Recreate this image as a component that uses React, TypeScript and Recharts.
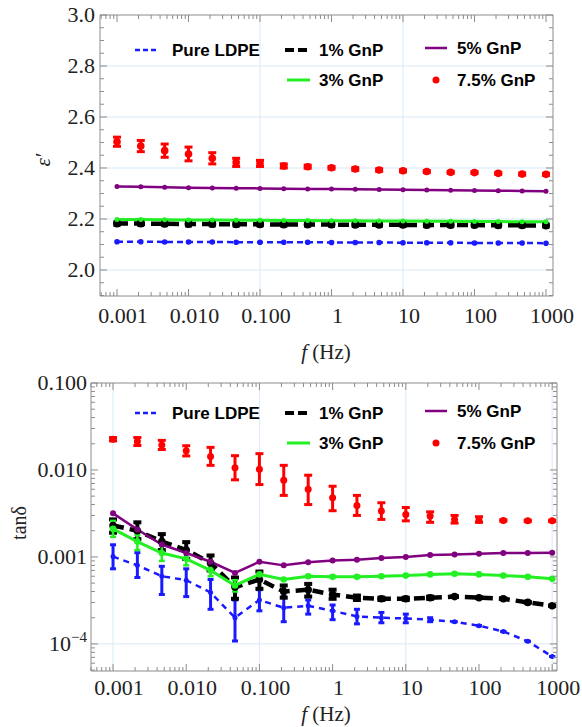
import React from 'react';
import { ComposedChart, Line, XAxis, YAxis, ErrorBar, ReferenceLine } from 'recharts';

// ---------- shared ----------
const freqs = [0.001, 0.00215, 0.00464, 0.01, 0.0215, 0.0464, 0.1, 0.215, 0.464, 1, 2.15, 4.64, 10, 21.5, 46.4, 100, 215, 464, 1000];
const seriesNames = ['Pure LDPE', '1% GnP', '3% GnP', '5% GnP', '7.5% GnP'];

const xTickValues = [0.001, 0.01, 0.1, 1, 10, 100, 1000];
const xTickLabels = ['0.001', '0.010', '0.100', '1', '10', '100', '1000'];

// ---------- top panel: eps' ----------
const epsPure = [2.111, 2.111, 2.110, 2.110, 2.110, 2.109, 2.109, 2.109, 2.109, 2.108, 2.108, 2.108, 2.107, 2.107, 2.107, 2.106, 2.106, 2.106, 2.105];
const epsPureErr = [0.003, 0.003, 0.003, 0.003, 0.003, 0.003, 0.003, 0.003, 0.003, 0.003, 0.003, 0.003, 0.003, 0.003, 0.003, 0.003, 0.003, 0.003, 0.003];
const eps1 = [2.182, 2.182, 2.181, 2.180, 2.180, 2.179, 2.179, 2.178, 2.178, 2.178, 2.177, 2.177, 2.177, 2.176, 2.176, 2.176, 2.175, 2.175, 2.174];
const eps1Err = [0.007, 0.007, 0.007, 0.007, 0.007, 0.007, 0.006, 0.006, 0.006, 0.006, 0.006, 0.006, 0.006, 0.006, 0.006, 0.006, 0.006, 0.006, 0.006];
const eps3 = [2.198, 2.198, 2.197, 2.196, 2.196, 2.195, 2.195, 2.194, 2.194, 2.193, 2.193, 2.192, 2.192, 2.191, 2.191, 2.190, 2.190, 2.189, 2.189];
const eps5 = [2.327, 2.326, 2.324, 2.323, 2.322, 2.321, 2.320, 2.319, 2.318, 2.318, 2.317, 2.316, 2.315, 2.314, 2.313, 2.312, 2.311, 2.310, 2.309];
const eps75 = [2.503, 2.486, 2.468, 2.455, 2.438, 2.422, 2.418, 2.408, 2.405, 2.401, 2.396, 2.392, 2.389, 2.386, 2.383, 2.382, 2.379, 2.376, 2.375];
const eps75Err = [0.018, 0.022, 0.026, 0.027, 0.022, 0.016, 0.012, 0.008, 0.006, 0.005, 0.005, 0.005, 0.004, 0.004, 0.004, 0.004, 0.004, 0.004, 0.004];

const epsTickValues = [2.0, 2.2, 2.4, 2.6, 2.8, 3.0];
const epsTickLabels = ['2.0', '2.2', '2.4', '2.6', '2.8', '3.0'];

// ---------- bottom panel: tan delta ----------
const tanPure = [0.00101, 0.0008, 0.0006, 0.00054, 0.00039, 0.0002, 0.00032, 0.00026, 0.000275, 0.00024, 0.000207, 0.0002, 0.000196, 0.00019, 0.00018, 0.000162, 0.000139, 0.000107, 0.0000716];
const tanPureHi = [0.00138, 0.00112, 0.00078, 0.00073, 0.00055, 0.00032, 0.00042, 0.00035, 0.00032, 0.00028, 0.00025, 0.00023, 0.00022, 0.0002, 0.00018, 0.000162, 0.000139, 0.000107, 0.0000716];
const tanPureLo = [0.00073, 0.00058, 0.00037, 0.00035, 0.00025, 0.000108, 0.00024, 0.00018, 0.00022, 0.00019, 0.00017, 0.000175, 0.000175, 0.00018, 0.00018, 0.000162, 0.000139, 0.000107, 0.0000716];

const tan1 = [0.0023, 0.002, 0.0015, 0.0012, 0.00085, 0.00045, 0.00055, 0.0004, 0.00042, 0.00037, 0.00034, 0.00033, 0.00033, 0.00034, 0.00035, 0.00034, 0.00033, 0.0003, 0.000275];
const tan1Hi = [0.0027, 0.0025, 0.00183, 0.00148, 0.00104, 0.00058, 0.00068, 0.00047, 0.00049, 0.00042, 0.00036, 0.00034, 0.00034, 0.00035, 0.00035, 0.00034, 0.00033, 0.0003, 0.000275];
const tan1Lo = [0.0019, 0.0016, 0.0012, 0.00095, 0.0007, 0.00033, 0.00043, 0.00034, 0.00035, 0.00033, 0.00032, 0.00032, 0.00032, 0.00033, 0.00035, 0.00034, 0.00033, 0.0003, 0.000275];

const tan3 = [0.0021, 0.0015, 0.00111, 0.00095, 0.0007, 0.00047, 0.00063, 0.00055, 0.0006, 0.00059, 0.00059, 0.0006, 0.00061, 0.00063, 0.00064, 0.00063, 0.00061, 0.00059, 0.00056];
const tan3Hi = [0.0026, 0.0018, 0.0014, 0.00115, 0.00082, 0.00054, 0.00063, 0.00055, 0.0006, 0.00059, 0.00059, 0.0006, 0.00061, 0.00063, 0.00064, 0.00063, 0.00061, 0.00059, 0.00056];
const tan3Lo = [0.0017, 0.0012, 0.0009, 0.0008, 0.0006, 0.0004, 0.00063, 0.00055, 0.0006, 0.00059, 0.00059, 0.0006, 0.00061, 0.00063, 0.00064, 0.00063, 0.00061, 0.00059, 0.00056];

const tan5 = [0.00317, 0.00207, 0.00139, 0.00111, 0.00088, 0.000655, 0.00088, 0.0008, 0.00087, 0.00091, 0.00093, 0.00097, 0.00100, 0.00105, 0.00107, 0.00109, 0.00111, 0.00111, 0.00112];

const tan75 = [0.0226, 0.0212, 0.0194, 0.0166, 0.0143, 0.0106, 0.0102, 0.0076, 0.006, 0.0048, 0.0039, 0.00337, 0.00308, 0.00295, 0.0027, 0.00265, 0.00263, 0.0026, 0.0026];
const tan75Hi = [0.0236, 0.0236, 0.0219, 0.019, 0.0182, 0.0146, 0.0154, 0.0113, 0.0087, 0.0065, 0.0051, 0.0042, 0.0037, 0.0033, 0.003, 0.0029, 0.00268, 0.00265, 0.00265];
const tan75Lo = [0.0216, 0.0191, 0.0172, 0.0145, 0.0113, 0.0077, 0.0068, 0.0051, 0.0040, 0.0034, 0.003, 0.0027, 0.0026, 0.0025, 0.00245, 0.0025, 0.00258, 0.00255, 0.00255];

const tanTickValues = [0.0001, 0.001, 0.01, 0.1];
const tanTickLabels = ['10^-4', '0.001', '0.010', '0.100'];

// ---------- tables ----------
const topData = freqs.map((f, i) => ({
  f,
  pure: epsPure[i], pureErr: epsPureErr[i],
  g1: eps1[i], g1Err: eps1Err[i],
  g3: eps3[i],
  g5: eps5[i],
  g75: eps75[i], g75Err: eps75Err[i],
}));

const asym = (v: number, lo: number, hi: number) => [Math.max(0, v - lo), Math.max(0, hi - v)];

const bottomData = freqs.map((f, i) => ({
  f,
  pure: tanPure[i], pureErr: asym(tanPure[i], tanPureLo[i], tanPureHi[i]),
  g1: tan1[i], g1Err: asym(tan1[i], tan1Lo[i], tan1Hi[i]),
  g3: tan3[i], g3Err: asym(tan3[i], tan3Lo[i], tan3Hi[i]),
  g5: tan5[i],
  g75: tan75[i], g75Err: asym(tan75[i], tan75Lo[i], tan75Hi[i]),
}));

// ---------- axis helpers ----------
const logTicks = (lo: number, hi: number) => {
  const out: number[] = [];
  for (let d = -6; d <= 4; d++) {
    for (let m = 1; m <= 9; m++) {
      const v = parseFloat((m * Math.pow(10, d)).toPrecision(6));
      if (v >= lo && v <= hi) out.push(v);
    }
  }
  return out;
};
const linTicks = (lo: number, hi: number, step: number) => {
  const out: number[] = [];
  for (let v = Math.ceil(lo / step) * step; v <= hi + 1e-9; v += step) out.push(parseFloat(v.toFixed(4)));
  return out;
};

const FRAME = '#8c8c8c';
const GRID = '#d9e9f7';
const SERIF = '"Liberation Serif", "Times New Roman", serif';
const SANS = '"Liberation Sans", Arial, sans-serif';

const isIn = (arr: number[], v: number) => arr.findIndex((m) => Math.abs(m - v) <= Math.abs(m) * 1e-6 + 1e-12);

const renderLabel = (s: string) => {
  if (s.startsWith('10^')) {
    return (
      <>
        <tspan>10</tspan>
        <tspan dy={-9} fontSize={15}>{'\u2212' + s.slice(4)}</tspan>
      </>
    );
  }
  return s;
};

function makeTick(side: string, majors: number[], labels: string[] | null, gap: number, dx = 0) {
  return (props: any) => {
    const { x, y, payload } = props;
    const v = payload.value;
    const idx = isIn(majors, v);
    const major = idx >= 0;
    const len = major ? 7 : 4;
    let line = null;
    let label = null;
    if (side === 'bottom') {
      line = <line x1={x} x2={x} y1={y} y2={y - len} stroke={FRAME} strokeWidth={1} />;
      if (major && labels) label = <text x={x + dx} y={y + gap} textAnchor="middle" fontFamily={SERIF} fontSize={22} fill="#222">{renderLabel(labels[idx])}</text>;
    } else if (side === 'top') {
      line = <line x1={x} x2={x} y1={y} y2={y + len} stroke={FRAME} strokeWidth={1} />;
    } else if (side === 'left') {
      line = <line x1={x} x2={x + len} y1={y} y2={y} stroke={FRAME} strokeWidth={1} />;
      if (major && labels) label = <text x={x - gap} y={y + 7} textAnchor="end" fontFamily={SERIF} fontSize={22} fill="#222">{renderLabel(labels[idx])}</text>;
    } else {
      line = <line x1={x} x2={x - len} y1={y} y2={y} stroke={FRAME} strokeWidth={1} />;
    }
    return <g>{line}{label}</g>;
  };
}

// ---------- charts ----------
const topXDomain = [0.000578, 1253];
const topYDomain = [1.898, 3.0];
const botXDomain = [0.0005, 1164];
const botYDomain = [0.0000488, 0.1];

const topXTicks = logTicks(topXDomain[0], topXDomain[1]);
const topYTicks = linTicks(topYDomain[0], topYDomain[1], 0.05);
const botXTicks = logTicks(botXDomain[0], botXDomain[1]);
const botYTicks = logTicks(botYDomain[0], botYDomain[1]);

const axisCommon = { tickLine: false, tickSize: 0, tickMargin: 0, interval: 0 as const, allowDataOverflow: true, axisLine: { stroke: FRAME } };

function TopChart() {
  return (
    <ComposedChart width={582} height={365} data={topData} margin={{ top: 14, right: 28, bottom: 68, left: 99 }}>
      {[2.0, 2.2, 2.4, 2.6, 2.8].map((v) => (
        <ReferenceLine key={'h' + v} y={v} stroke={GRID} strokeWidth={1} />
      ))}
      {[0.1, 10].map((v) => (
        <ReferenceLine key={'v' + v} x={v} stroke={GRID} strokeWidth={1} />
      ))}
      <XAxis dataKey="f" type="number" scale="log" domain={topXDomain} ticks={topXTicks} height={1}
        tick={makeTick('bottom', xTickValues, xTickLabels, 27, 6)} {...axisCommon} />
      <XAxis xAxisId="top" orientation="top" dataKey="f" type="number" scale="log" domain={topXDomain} ticks={topXTicks} height={1}
        tick={makeTick('top', xTickValues, null, 0)} {...axisCommon} />
      <YAxis type="number" domain={topYDomain} ticks={topYTicks} width={1}
        tick={makeTick('left', epsTickValues, epsTickLabels, 5)} {...axisCommon} />
      <YAxis yAxisId="right" orientation="right" type="number" domain={topYDomain} ticks={topYTicks} width={1}
        tick={makeTick('right', epsTickValues, null, 0)} {...axisCommon} />

      <Line dataKey="pure" name={seriesNames[0]} stroke="#1a1aff" strokeWidth={2.5} strokeDasharray="6 4"
        dot={{ r: 2.8, fill: '#1a1aff', stroke: 'none', strokeWidth: 0, strokeDasharray: 'none' }} activeDot={false} isAnimationActive={false}>
        <ErrorBar dataKey="pureErr" width={2} strokeWidth={2} stroke="#1a1aff" direction="y" />
      </Line>
      <Line dataKey="g1" name={seriesNames[1]} stroke="#000" strokeWidth={4.5} strokeDasharray="11 6"
        dot={{ r: 4, fill: '#000', stroke: 'none', strokeWidth: 0, strokeDasharray: 'none' }} activeDot={false} isAnimationActive={false}>
        <ErrorBar dataKey="g1Err" width={3.5} strokeWidth={3} stroke="#000" direction="y" />
      </Line>
      <Line dataKey="g3" name={seriesNames[2]} stroke="#22f022" strokeWidth={3}
        dot={{ r: 2.5, fill: '#22f022', stroke: 'none', strokeWidth: 0 }} activeDot={false} isAnimationActive={false} />
      <Line dataKey="g5" name={seriesNames[3]} stroke="#800080" strokeWidth={2.5}
        dot={{ r: 2.5, fill: '#800080', stroke: 'none', strokeWidth: 0 }} activeDot={false} isAnimationActive={false} />
      <Line dataKey="g75" name={seriesNames[4]} stroke="none" strokeWidth={0}
        dot={{ r: 3.8, fill: '#ff0000', stroke: 'none', strokeWidth: 0 }} activeDot={false} isAnimationActive={false}>
        <ErrorBar dataKey="g75Err" width={4} strokeWidth={3} stroke="#ff0000" direction="y" />
      </Line>
    </ComposedChart>
  );
}

function BottomChart() {
  return (
    <ComposedChart width={582} height={362} data={bottomData} margin={{ top: 17, right: 24, bottom: 55, left: 90 }}>
      {[0.0001].map((v) => (
        <ReferenceLine key={'h' + v} y={v} stroke={GRID} strokeWidth={1} />
      ))}
      {[0.001, 0.1, 10, 1000].map((v) => (
        <ReferenceLine key={'v' + v} x={v} stroke={GRID} strokeWidth={1} />
      ))}
      <XAxis dataKey="f" type="number" scale="log" domain={botXDomain} ticks={botXTicks} height={1}
        tick={makeTick('bottom', xTickValues, xTickLabels, 24, 6)} {...axisCommon} />
      <XAxis xAxisId="top" orientation="top" dataKey="f" type="number" scale="log" domain={botXDomain} ticks={botXTicks} height={1}
        tick={makeTick('top', xTickValues, null, 0)} {...axisCommon} />
      <YAxis type="number" scale="log" domain={botYDomain} ticks={botYTicks} width={1}
        tick={makeTick('left', tanTickValues, tanTickLabels, 4)} {...axisCommon} />
      <YAxis yAxisId="right" orientation="right" type="number" scale="log" domain={botYDomain} ticks={botYTicks} width={1}
        tick={makeTick('right', tanTickValues, null, 0)} {...axisCommon} />

      <Line dataKey="pure" name={seriesNames[0]} stroke="#1a1aff" strokeWidth={2.5} strokeDasharray="6 5"
        dot={{ r: 2.5, fill: '#1a1aff', stroke: 'none', strokeWidth: 0, strokeDasharray: 'none' }} activeDot={false} isAnimationActive={false}>
        <ErrorBar dataKey="pureErr" width={3} strokeWidth={3} stroke="#1a1aff" direction="y" />
      </Line>
      <Line dataKey="g1" name={seriesNames[1]} stroke="#000" strokeWidth={4.5} strokeDasharray="11 6"
        dot={{ r: 3.8, fill: '#000', stroke: 'none', strokeWidth: 0, strokeDasharray: 'none' }} activeDot={false} isAnimationActive={false}>
        <ErrorBar dataKey="g1Err" width={4} strokeWidth={4} stroke="#000" direction="y" />
      </Line>
      <Line dataKey="g3" name={seriesNames[2]} stroke="#22f022" strokeWidth={3}
        dot={{ r: 3.3, fill: '#22f022', stroke: 'none', strokeWidth: 0 }} activeDot={false} isAnimationActive={false}>
        <ErrorBar dataKey="g3Err" width={3} strokeWidth={2.5} stroke="#22f022" direction="y" />
      </Line>
      <Line dataKey="g5" name={seriesNames[3]} stroke="#800080" strokeWidth={2.5}
        dot={{ r: 3, fill: '#800080', stroke: 'none', strokeWidth: 0 }} activeDot={false} isAnimationActive={false} />
      <Line dataKey="g75" name={seriesNames[4]} stroke="none" strokeWidth={0}
        dot={{ r: 3.5, fill: '#ff0000', stroke: 'none', strokeWidth: 0 }} activeDot={false} isAnimationActive={false}>
        <ErrorBar dataKey="g75Err" width={4} strokeWidth={3} stroke="#ff0000" direction="y" />
      </Line>
    </ComposedChart>
  );
}

// ---------- legend / labels overlay ----------
function LegendItems({ r1, r2 }: { r1: number; r2: number }) {
  const txt = (x: number, y: number, s: string) => (
    <text x={x} y={y} dominantBaseline="central" fontFamily={SANS} fontWeight="bold" fontSize={17} fill="#000">{s}</text>
  );
  return (
    <g>
      <line x1={135} x2={157} y1={r1} y2={r1} stroke="#1a1aff" strokeWidth={2.5} strokeDasharray="5 3" />
      {txt(172, r1, seriesNames[0])}
      <line x1={285} x2={310} y1={r1} y2={r1} stroke="#000" strokeWidth={4} strokeDasharray="9 4" />
      {txt(319, r1, seriesNames[1])}
      <line x1={425} x2={447} y1={r1 - 2} y2={r1 - 2} stroke="#800080" strokeWidth={2.5} />
      {txt(457, r1 - 2, seriesNames[3])}
      <line x1={287} x2={310} y1={r2} y2={r2} stroke="#22f022" strokeWidth={3} />
      {txt(319, r2, seriesNames[2])}
      <circle cx={436} cy={r2} r={3.5} fill="#ff0000" />
      {txt(457, r2, seriesNames[4])}
    </g>
  );
}

function Overlay() {
  return (
    <svg width={582} height={727} style={{ position: 'absolute', left: 0, top: 0, pointerEvents: 'none' }}>
      <LegendItems r1={50} r2={80} />
      <g transform="translate(0,363)">
        <LegendItems r1={50} r2={80} />
      </g>
      <text x={0} y={0} transform="translate(50,160) rotate(-90)" textAnchor="middle" fontFamily={SERIF} fontStyle="italic" fontSize={21} fill="#222">
        {'\u03b5\u2032'}
      </text>
      <text x={0} y={0} transform="translate(26,523) rotate(-90)" textAnchor="middle" fontFamily={SERIF} fontSize={20} fill="#222">
        {'tan\u03b4'}
      </text>
      <text x={326} y={359} textAnchor="middle" fontFamily={SERIF} fontSize={21} fill="#222">
        <tspan fontStyle="italic">f</tspan>
        <tspan> (Hz)</tspan>
      </text>
      <text x={326} y={721} textAnchor="middle" fontFamily={SERIF} fontSize={21} fill="#222">
        <tspan fontStyle="italic">f</tspan>
        <tspan> (Hz)</tspan>
      </text>
    </svg>
  );
}

export default function App() {
  return (
    <div style={{ position: 'absolute', left: 0, top: 0, width: 582, height: 727, background: '#fff', overflow: 'hidden' }}>
      <div style={{ position: 'absolute', left: 0, top: 0 }}>
        <TopChart />
      </div>
      <div style={{ position: 'absolute', left: 0, top: 365 }}>
        <BottomChart />
      </div>
      <Overlay />
    </div>
  );
}
